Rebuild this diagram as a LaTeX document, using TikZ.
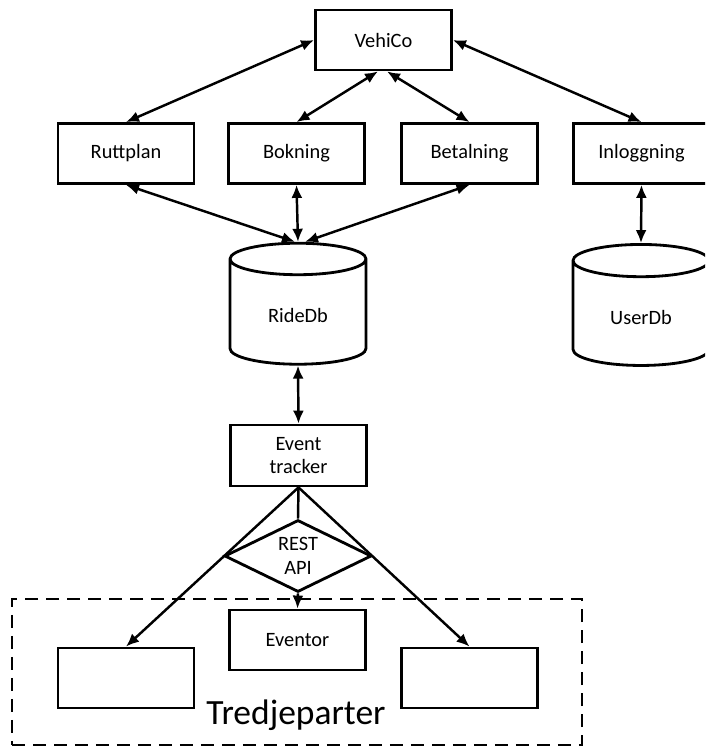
\documentclass[tikz,border=0pt]{standalone}
\usepackage{fontspec}
\setmainfont{Carlito}
\usepackage{tikz}
\usetikzlibrary{arrows.meta,positioning,shapes.geometric}

\begin{document}
\begin{tikzpicture}[>={Latex[length=2.6mm,width=2.2mm]},
  box/.style={draw,line width=1.6pt,minimum width=2.72cm,minimum height=1.2cm,inner sep=1pt,
    align=center,font=\fontsize{11.6}{13.6}\selectfont},
  db/.style={draw,line width=1.6pt,cylinder,shape border rotate=90,aspect=0.44,
    minimum width=2.72cm,minimum height=2.42cm,font=\fontsize{11.6}{13.6}\selectfont},
  link/.style={line width=1.4pt}]
  \clip (0,0) rectangle (14.1,14.94);
  \useasboundingbox (0,0) rectangle (14.1,14.94);

  \node[box] (vehico) at (7.67,14.14) {VehiCo};

  \node[box] (ruttplan) at (2.52,11.87) {Ruttplan};
  \node[box] (bokning) at (5.93,11.87) {Bokning};
  \node[box] (betalning) at (9.39,11.87) {Betalning};
  \node[box] (inloggning) at (12.83,11.87) {Inloggning};

  \node[db] (ridedb) at (5.96,8.63) {RideDb};
  \node[db] (userdb) at (12.82,8.60) {UserDb};

  \node[box,minimum height=1.22cm] (tracker) at (5.97,5.83) {Event\\tracker};
  \node[draw,diamond,line width=1.6pt,inner sep=0pt,aspect=2,minimum width=2.94cm,
    minimum height=1.44cm,align=center,font=\fontsize{11.6}{13.6}\selectfont]
    (restapi) at (5.96,3.82) {REST\\API};

  % tredjeparter
  \node[draw,dash pattern=on 0.26cm off 0.16cm,line width=1.5pt,minimum width=11.40cm,
    minimum height=2.92cm] (tredje) at (5.94,1.50) {};
  \node[font=\fontsize{20.2}{24}\selectfont] (tredjelabel) at (5.92,0.64) {Tredjeparter};
  \node[box] (eventor) at (5.95,2.14) {Eventor};
  \node[box] (tpleft) at (2.52,1.38) {};
  \node[box] (tpright) at (9.39,1.38) {};

  \draw[link,<->] (ruttplan.north) -- (vehico.west);
  \draw[link,<->] (bokning.north) -- ([xshift=-0.11cm]vehico.south);
  \draw[link,<->] (betalning.north) -- ([xshift=0.07cm]vehico.south);
  \draw[link,<->] (inloggning.north) -- (vehico.east);

  \draw[link,<->] (ruttplan.south) -- ([xshift=-0.06cm]ridedb.north);
  \draw[link,<->] (bokning.south) -- (ridedb.north);
  \draw[link,<->] (betalning.south) -- ([xshift=0.14cm]ridedb.north);
  \draw[link,<->] (inloggning.south) -- (userdb.north);

  \draw[link,<->] (ridedb.south) -- (tracker.north);
  \draw[link] (tracker.south) -- (restapi.north);
  \draw[link,->] (tracker.south) -- (tpleft.north);
  \draw[link,->] (tracker.south) -- (tpright.north);
  \draw[link,->] (restapi.south) -- (eventor.north);
\end{tikzpicture}
\end{document}
